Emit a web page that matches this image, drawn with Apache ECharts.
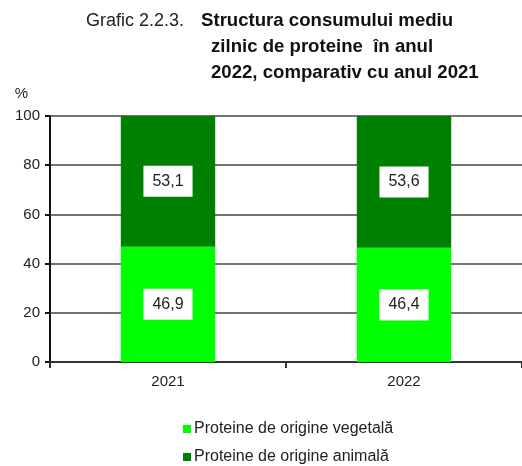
<!DOCTYPE html>
<html>
<head>
<meta charset="utf-8">
<script src="https://cdn.jsdelivr.net/npm/echarts@6/dist/echarts.min.js"></script>
<style>
  html, body { margin: 0; padding: 0; background: #fff; }
  #main { width: 522px; height: 466px; }
</style>
</head>
<body>
<div id="main"></div>
<script>
var years = ["2021", "2022"];
var vegetal = [46.9, 46.4];
var animal = [53.1, 53.6];
var yTicks = [0, 20, 40, 60, 80, 100];

var chartDom = document.getElementById("main");
var myChart = echarts.init(chartDom);
var font = "'Liberation Sans', Arial, sans-serif";

function fmt(p) {
  return String(p.value.toFixed(1)).replace(".", ",");
}

var label = {
  show: true,
  position: "inside",
  formatter: fmt,
  color: "#222",
  fontFamily: font,
  fontSize: 16,
  backgroundColor: "#fff",
  padding: [8, 9, 7, 9],
};

var option = {
  animation: false,
  title: {
    left: 81,
    top: 3,
    text: "{n|Grafic 2.2.3.}{g|}{b|Structura consumului mediu}\n{s|}{b|zilnic de proteine  în anul}\n{s|}{b|2022, comparativ cu anul 2021}",
    textStyle: {
      fontFamily: font,
      lineHeight: 26,
      rich: {
        n: { fontSize: 18, fontWeight: "normal", color: "#222", fontFamily: font, lineHeight: 26 },
        b: { fontSize: 18.6, fontWeight: "bold", color: "#111", fontFamily: font, lineHeight: 26 },
        g: { width: 17, lineHeight: 26 },
        s: { width: 125, lineHeight: 26 },
      },
    },
  },
  legend: {
    orient: "vertical",
    left: 183,
    top: 421,
    padding: 0,
    itemWidth: 8,
    itemHeight: 8,
    itemGap: 12,
    icon: "rect",
    textStyle: { fontFamily: font, fontSize: 16, color: "#222", padding: [0, 0, 0, -2] },
    data: ["Proteine de origine vegetală", "Proteine de origine animală"],
  },
  grid: { left: 50, right: -4, top: 116, bottom: 104 },
  xAxis: {
    type: "category",
    data: years,
    axisLine: { lineStyle: { color: "#333", width: 2 } },
    axisTick: { show: true, length: 6, lineStyle: { color: "#333", width: 2 } },
    axisLabel: { fontFamily: font, fontSize: 15, color: "#222", margin: 12 },
  },
  yAxis: {
    type: "value",
    min: yTicks[0],
    max: yTicks[yTicks.length - 1],
    interval: 20,
    name: "%",
    nameLocation: "end",
    nameGap: 15,
    nameTextStyle: { fontFamily: font, fontSize: 15, color: "#222", align: "right", padding: [0, 22, 0, 0] },
    axisLine: { show: true, lineStyle: { color: "#111", width: 2 } },
    axisTick: { show: true, length: 5, lineStyle: { color: "#111", width: 2 } },
    axisLabel: { fontFamily: font, fontSize: 15, color: "#222", margin: 10 },
    splitLine: { lineStyle: { color: "#444", width: 1.5 } },
  },
  series: [
    {
      name: "Proteine de origine vegetală",
      type: "bar",
      stack: "p",
      data: vegetal,
      barWidth: "40%",
      itemStyle: { color: "#00ff00" },
      label: label,
    },
    {
      name: "Proteine de origine animală",
      type: "bar",
      stack: "p",
      data: animal,
      barWidth: "40%",
      itemStyle: { color: "#008000" },
      label: label,
    },
  ],
};

option && myChart.setOption(option);
</script>
</body>
</html>
